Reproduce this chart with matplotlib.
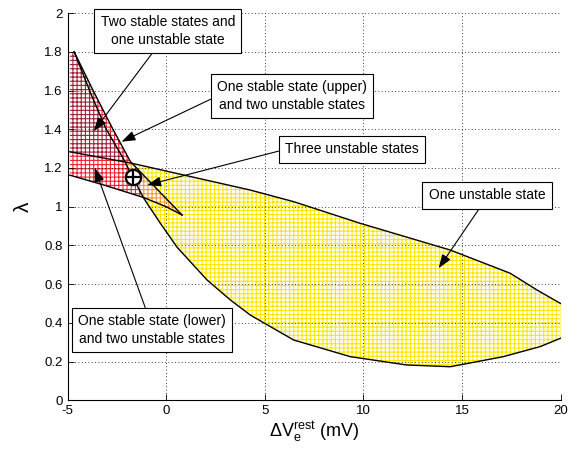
import numpy as np
import matplotlib
matplotlib.use("Agg")
import matplotlib.pyplot as plt
from matplotlib.patches import Polygon

plt.rcParams['font.family'] = ['Liberation Sans', 'DejaVu Sans']
plt.rcParams['mathtext.default'] = 'regular'
plt.rcParams['hatch.linewidth'] = 0.8

# curves (x = dV_e^rest in mV, y = lambda)
# outer edge of the cusp, from the top down to the tip
outer_x = [-4.66, -3.70, -2.72, -1.81, -0.50, 0.81]
outer_y = [1.80, 1.60, 1.405, 1.233, 1.095, 0.957]
# lower edge of the cusp, from the left to the tip
lower_x = [-4.88, -3.16, -1.13, 0.00, 0.81]
lower_y = [1.163, 1.112, 1.047, 1.000, 0.957]
# upper boundary of the yellow region
upper_x = [-4.88, -1.72, 4.27, 6.47, 9.85, 14.41, 17.45, 18.80, 20.0]
upper_y = [1.284, 1.224, 1.086, 1.026, 0.914, 0.776, 0.656, 0.570, 0.50]
# inner curve: from the top, through the cusp, lower boundary of yellow
inner_x = [-4.66, -3.80, -3.06, -2.15, -1.69, -1.13, -0.29, 0.56,
           2.08, 3.26, 4.27, 6.47, 9.34, 12.2, 14.41, 17.1, 18.97, 20.0]
inner_y = [1.80, 1.58, 1.405, 1.245, 1.152, 1.043, 0.914, 0.790,
           0.621, 0.518, 0.440, 0.311, 0.225, 0.182, 0.173, 0.225, 0.277, 0.32]

x_left = -4.88
y_top = 1.80
marker_x, marker_y = -1.69, 1.152

xticks = [-5, 0, 5, 10, 15, 20]
xticklabels = ['-5', '0', '5', '10', '15', '20']
yticks = [0, 0.2, 0.4, 0.6, 0.8, 1, 1.2, 1.4, 1.6, 1.8, 2]
yticklabels = ['0', '0.2', '0.4', '0.6', '0.8', '1', '1.2', '1.4', '1.6', '1.8', '2']

labels = ['Two stable states and\none unstable state',
          'One stable state (upper)\nand two unstable states',
          'Three unstable states',
          'One unstable state',
          'One stable state (lower)\nand two unstable states']
label_xy = [(0.09, 1.908), (6.4, 1.572), (9.43, 1.296), (16.27, 1.058), (-0.71, 0.363)]
arrow_xy = [(-3.67, 1.39), (-2.26, 1.336), (-0.96, 1.112), (13.82, 0.682), (-3.62, 1.20)]
arrow_rel = [(0.42, 0), (0, 0.5), (0, 0.5), (0.47, 0), (0.47, 1)]


def crossing(ax_, ay_, bx_, by_):
    # first crossing of two polylines, returned as (x, y, param on a, param on b)
    for i in range(len(ax_) - 1):
        p = np.array([ax_[i], ay_[i]])
        r = np.array([ax_[i + 1], ay_[i + 1]]) - p
        for j in range(len(bx_) - 1):
            q = np.array([bx_[j], by_[j]])
            s = np.array([bx_[j + 1], by_[j + 1]]) - q
            den = r[0] * s[1] - r[1] * s[0]
            if den == 0:
                continue
            t = ((q - p)[0] * s[1] - (q - p)[1] * s[0]) / den
            u = ((q - p)[0] * r[1] - (q - p)[1] * r[0]) / den
            if 0 <= t <= 1 and 0 <= u <= 1:
                pt = p + t * r
                return pt[0], pt[1], i + t, j + u
    return None


def piece(x, y, p0, p1):
    # part of a polyline between two params (index + fraction)
    idx = np.arange(len(x))
    lo, hi = min(p0, p1), max(p0, p1)
    inner = idx[(idx > lo) & (idx < hi)]
    ps = np.concatenate([[lo], inner, [hi]])
    px = np.interp(ps, idx, x)
    py = np.interp(ps, idx, y)
    pts = np.column_stack([px, py])
    if p0 > p1:
        pts = pts[::-1]
    return pts


# crossings
_, _, pDE_u, pDE_d = crossing(upper_x, upper_y, inner_x, inner_y)
_, _, pOE_u, pOE_o = crossing(upper_x, upper_y, outer_x, outer_y)
_, _, pDL_l, pDL_d = crossing(lower_x, lower_y, inner_x, inner_y)
nU, nD, nO, nL = len(upper_x) - 1, len(inner_x) - 1, len(outer_x) - 1, len(lower_x) - 1

dark_red = np.vstack([[[x_left, upper_y[0]], [x_left, y_top]],
                      piece(inner_x, inner_y, 0, pDE_d),
                      piece(upper_x, upper_y, pDE_u, 0)])
sliver = np.vstack([piece(inner_x, inner_y, 0, pDE_d),
                    piece(upper_x, upper_y, pDE_u, pOE_u),
                    piece(outer_x, outer_y, pOE_o, 0)])
low_red = np.vstack([[[x_left, lower_y[0]], [x_left, upper_y[0]]],
                     piece(upper_x, upper_y, 0, pDE_u),
                     piece(inner_x, inner_y, pDE_d, pDL_d),
                     piece(lower_x, lower_y, pDL_l, 0)])
orange = np.vstack([piece(upper_x, upper_y, pDE_u, pOE_u),
                    piece(outer_x, outer_y, pOE_o, nO),
                    piece(lower_x, lower_y, nL, pDL_l),
                    piece(inner_x, inner_y, pDL_d, pDE_d)])
yellow = np.vstack([piece(upper_x, upper_y, pDE_u, nU),
                    piece(inner_x, inner_y, nD, pDE_d)])

fig = plt.figure(figsize=(5.69, 4.53), dpi=100)
ax = fig.add_axes([67.5 / 569, (453 - 400.2) / 453, 493 / 569, 387 / 453])

regions = [(yellow, '#ffe800'), (orange, '#f59a30'), (low_red, '#ee2430'),
           (sliver, '#ee2430'), (dark_red, '#a02038')]
for pts, col in regions:
    ax.add_patch(Polygon(pts, closed=True, facecolor='white', edgecolor=col,
                         hatch='++++', linewidth=0, zorder=1))

for cx, cy in [(outer_x, outer_y), (lower_x, lower_y), (upper_x, upper_y), (inner_x, inner_y)]:
    ax.plot(cx, cy, color='k', lw=1.0, zorder=3)

ax.plot(marker_x, marker_y, 'o', ms=11, mfc='white', mec='k', mew=1.6, zorder=4)
ax.plot(marker_x, marker_y, '+', ms=10, mec='k', mew=1.6, zorder=5)

for txt, (tx, ty), (hx, hy), rel in zip(labels, label_xy, arrow_xy, arrow_rel):
    ax.annotate(txt, xy=(hx, hy), xytext=(tx, ty), ha='center', va='center',
                fontsize=10, linespacing=1.3, zorder=6, annotation_clip=False,
                bbox=dict(boxstyle='square,pad=0.45', fc='white', ec='k', lw=0.8),
                arrowprops=dict(arrowstyle='-|>,head_length=0.7,head_width=0.25',
                                color='k', lw=0.8, relpos=rel, shrinkA=0, shrinkB=0,
                                mutation_scale=12))

ax.set_xlim(-5, 20)
ax.set_ylim(0, 2)
ax.set_xticks(xticks)
ax.set_xticklabels(xticklabels)
ax.set_yticks(yticks)
ax.set_yticklabels(yticklabels)
ax.tick_params(direction='in', length=4, labelsize=9.5, width=0.6)
ax.grid(True, linestyle=(0, (1, 3)), color='k', lw=0.6)
ax.spines['top'].set_visible(False)
ax.spines['right'].set_visible(False)
ax.spines['left'].set_linewidth(0.8)
ax.spines['bottom'].set_linewidth(0.8)

ax.set_xlabel(r'$\Delta V_e^{rest}$ (mV)', fontsize=13, labelpad=2)
ax.set_ylabel('λ', fontsize=15, labelpad=8)

fig.savefig('out.png', dpi=100)
